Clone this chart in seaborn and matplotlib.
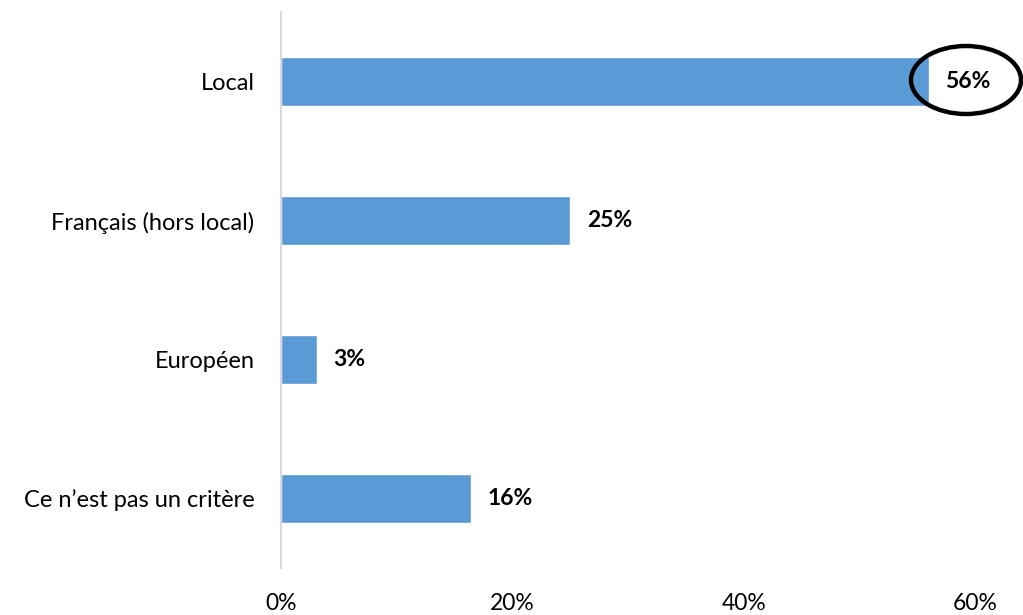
import matplotlib
matplotlib.use("Agg")
import matplotlib.pyplot as plt
import seaborn as sns
import pandas as pd
from matplotlib.patches import Ellipse

categories = ["Local", "Français (hors local)", "Européen", "Ce n\u2019est pas un critère"]
values = [56, 25, 3.1, 16.4]
labels = ["56%", "25%", "3%", "16%"]
xticks = [0, 20, 40, 60]
xticklabels = ["0%", "20%", "40%", "60%"]

sns.set_theme(style="white")
plt.rcParams["font.family"] = ["Lato", "DejaVu Sans"]

df = pd.DataFrame({"cat": categories, "val": values})

fig = plt.figure(figsize=(10.23, 6.15), dpi=100)
ax = fig.add_axes([281/1023, 1-568/615, (975-281)/1023, (568-12)/615])
sns.barplot(data=df, x="val", y="cat", orient="h", color="#5B9BD5",
            saturation=1, width=0.35, ax=ax)

ax.set_xlim(0, 60)
ax.set_ylim(3.5, -0.5)
ax.set_xticks(xticks)
ax.set_xticklabels(xticklabels, fontsize=16.5, color="black")
ax.tick_params(axis="x", length=0, pad=18)
ax.tick_params(axis="y", length=0, pad=19, labelsize=17, labelcolor="black")
ax.set_xlabel("")
ax.set_ylabel("")
for s in ["top", "right", "bottom"]:
    ax.spines[s].set_visible(False)
ax.spines["left"].set_color("#D9D9D9")
ax.spines["left"].set_linewidth(1.5)

for i, (v, lab) in enumerate(zip(values, labels)):
    ax.annotate(lab, xy=(v, i), xytext=(12, 0), textcoords="offset points",
                va="center", ha="left", fontsize=16.5, fontweight="bold", color="black")

# highlight ellipse around the first label
ell = Ellipse((966/1023, 1-80/615), width=110/1023, height=68/615,
              transform=fig.transFigure, fill=False, edgecolor="black",
              linewidth=3.2, clip_on=False)
fig.patches.append(ell)

fig.savefig("out.png", dpi=100)
